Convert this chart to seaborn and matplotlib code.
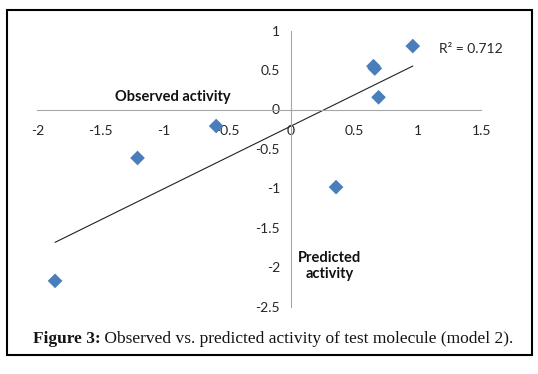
import matplotlib
matplotlib.use("Agg")
import matplotlib.pyplot as plt
import numpy as np
import pandas as pd
import seaborn as sns
from matplotlib.patches import Rectangle

# values
x_vals = [-1.86, -1.21, -0.59, 0.355, 0.65, 0.66, 0.69, 0.96]
y_vals = [-2.175, -0.615, -0.21, -0.985, 0.55, 0.52, 0.155, 0.805]
x_ticks = [-2, -1.5, -1, -0.5, 0, 0.5, 1, 1.5]
x_tick_labels = ["-2", "-1.5", "-1", "-0.5", "0", "0.5", "1", "1.5"]
y_ticks = [-2.5, -2, -1.5, -1, -0.5, 0, 0.5, 1]
y_tick_labels = ["-2.5", "-2", "-1.5", "-1", "-0.5", "0", "0.5", "1"]
r2_text = "R² = 0.712"
x_title = "Observed activity"
y_title = "Predicted\nactivity"
cap_bold = "Figure 3:"
cap_rest = " Observed vs. predicted activity of test molecule (model 2)."

sns.set_style("white")
plt.rcParams['font.family'] = ['Lato', 'DejaVu Sans']
plt.rcParams['axes.unicode_minus'] = False

W, H = 538, 374
fig = plt.figure(figsize=(W / 100, H / 100), dpi=100)
fig.patch.set_facecolor("white")
ax = fig.add_axes([37.3 / W, 1 - 306.5 / H, 444 / W, 275.8 / H])

df = pd.DataFrame({"pred": x_vals, "obs": y_vals})
sns.regplot(data=df, x="pred", y="obs", ax=ax, ci=None, scatter=False,
            truncate=True, line_kws=dict(color="#222222", lw=0.8))
sns.scatterplot(data=df, x="pred", y="obs", ax=ax, marker="D", s=56,
                color="#4A7EBB", edgecolor="none", zorder=3)

ax.set_xlim(-2, 1.5)
ax.set_ylim(-2.5, 1)
ax.set_xlabel("")
ax.set_ylabel("")
for s in ["top", "right"]:
    ax.spines[s].set_visible(False)
ax.spines["left"].set_position(("data", 0))
ax.spines["bottom"].set_position(("data", 0))
for s in ["left", "bottom"]:
    ax.spines[s].set_color("#A6A6A6")
    ax.spines[s].set_linewidth(0.8)

ax.set_xticks(x_ticks, x_tick_labels)
ax.set_yticks(y_ticks, y_tick_labels)
ax.tick_params(axis="both", direction="out", length=3.6, width=0.8,
               color="#A6A6A6", labelsize=10, labelcolor="#262626")
ax.tick_params(axis="x", pad=7.5)
ax.tick_params(axis="y", pad=4.3)

ax.text(-0.93, 0.16, x_title, ha="center", va="center",
        fontsize=10.5, fontweight="bold", color="#111111")
ax.text(0.307, -1.99, y_title, ha="center", va="center", multialignment="center",
        fontsize=10.5, fontweight="bold", color="#111111", linespacing=1.15)
ax.text(1.166, 0.774, r2_text, ha="left", va="center", fontsize=10, color="#262626")

# frame round the figure
fig.add_artist(Rectangle((6.5 / W, 1 - 355 / H), (531.7 - 6.5) / W, (355 - 9.7) / H,
                         transform=fig.transFigure, fill=False, lw=1.5, ec="black"))

# caption
t1 = fig.text(32.7 / W, 1 - 343 / H, cap_bold, ha="left", va="baseline",
              family="Liberation Serif", fontweight="bold", fontsize=12.5, color="#141414")
fig.canvas.draw()
bb = t1.get_window_extent()
fig.text(bb.x1 / W, 1 - 343 / H, cap_rest, ha="left", va="baseline",
         family="Liberation Serif", fontsize=12.5, color="#141414")

fig.savefig("out.png", dpi=100)
